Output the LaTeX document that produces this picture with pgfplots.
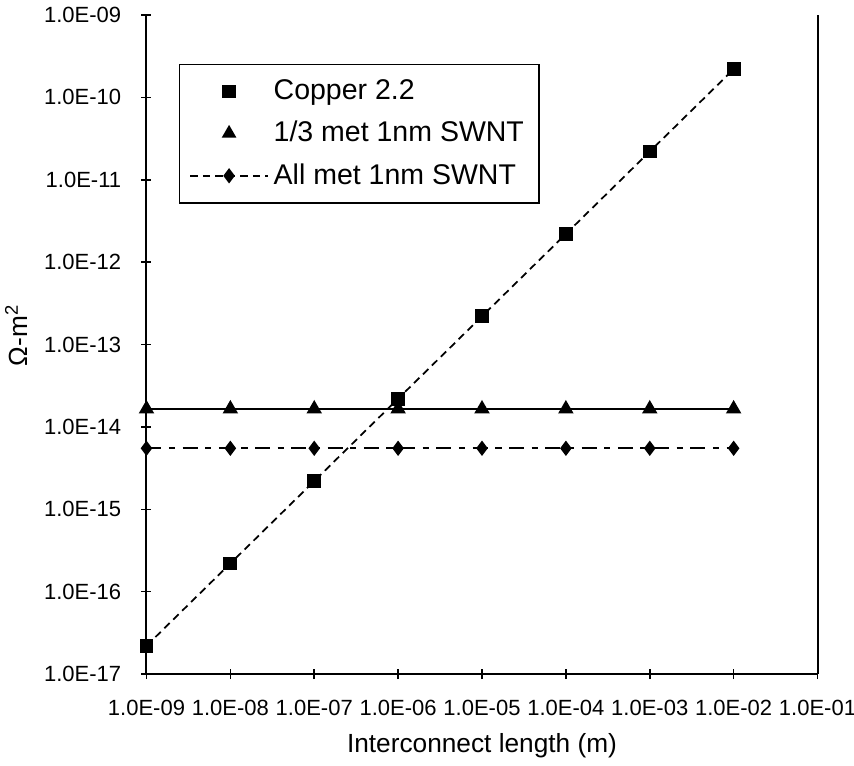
\documentclass[border=0pt]{standalone}
\usepackage{fontspec}
\setmainfont{Liberation Sans}
\usepackage{pgfplots}
\pgfplotsset{compat=1.18}
\begin{document}
\begin{tikzpicture}[x=1pt,y=1pt]
\useasboundingbox (0,0) rectangle (341.6,306);
\begin{axis}[
    at={(58.6pt,36.4pt)}, anchor=south west,
    scale only axis, width=268.4pt, height=263.6pt,
    xmode=log, ymode=log,
    xmin=1e-9, xmax=1e-1, ymin=1e-17, ymax=1e-9,
    axis x line*=bottom, axis y line*=left,
    axis line style={line width=0.8pt},
    xminorticks=false, yminorticks=false,
    xtick={1e-9,1e-8,1e-7,1e-6,1e-5,1e-4,1e-3,1e-2,1e-1},
    xticklabels={1.0E-09,1.0E-08,1.0E-07,1.0E-06,1.0E-05,1.0E-04,1.0E-03,1.0E-02,1.0E-01},
    ytick={1e-17,1e-16,1e-15,1e-14,1e-13,1e-12,1e-11,1e-10,1e-9},
    yticklabels={1.0E-17,1.0E-16,1.0E-15,1.0E-14,1.0E-13,1.0E-12,1.0E-11,1.0E-10,1.0E-09},
    tick align=center, major tick length=4pt,
    tick style={line width=0.6pt, black},
    tick label style={font=\fontsize{8.8}{10}\selectfont},
    xticklabel style={yshift=-5pt},
    yticklabel style={xshift=-4.6pt},
    xlabel={Interconnect length (m)},
    ylabel={Ω-m\textsuperscript{2}},
    label style={font=\fontsize{10.5}{12}\selectfont},
    xlabel style={at={(0.5,-0.109)}, anchor=center},
    ylabel style={at={(-0.194,0.514)}, anchor=center},
    extra description/.code={\draw[line width=0.8pt] (1,0) -- (1,1);},
    legend image code/.code={\draw[mark repeat=2,mark phase=2,#1] plot coordinates {(0pt,0pt) (15.5pt,0pt) (31pt,0pt)};},
    legend style={at={(0.048,0.926)}, anchor=north west, draw=black, line width=0.6pt,
        font=\fontsize{11.4}{13}\selectfont, row sep=3.2pt, inner xsep=4pt, inner ysep=4pt},
    legend cell align=left,
]
\addlegendimage{only marks, black, mark=square*, mark size=2.4pt}
\addlegendentry{Copper 2.2}
\addlegendimage{only marks, black, mark=triangle*, mark size=2.8pt}
\addlegendentry{1/3 met 1nm SWNT}
\addlegendimage{black, line width=0.7pt, dash pattern=on 3pt off 2pt, mark=diamond*, mark size=2.5pt, mark options={solid}}
\addlegendentry{All met 1nm SWNT}

\addplot[forget plot, black, line width=0.7pt, dash pattern=on 3pt off 2pt,
    mark=square*, mark size=2.4pt, mark options={solid}] coordinates {
    (1e-9,2.2e-17) (1e-8,2.2e-16) (1e-7,2.2e-15) (1e-6,2.2e-14)
    (1e-5,2.2e-13) (1e-4,2.2e-12) (1e-3,2.2e-11) (1e-2,2.2e-10)
};
\addplot[forget plot, black, line width=0.8pt, mark=triangle*, mark size=2.8pt] coordinates {
    (1e-9,1.65e-14) (1e-8,1.65e-14) (1e-7,1.65e-14) (1e-6,1.65e-14)
    (1e-5,1.65e-14) (1e-4,1.65e-14) (1e-3,1.65e-14) (1e-2,1.65e-14)
};
\addplot[forget plot, black, line width=0.7pt, dash pattern=on 6pt off 3pt on 2.5pt off 3pt,
    mark=diamond*, mark size=2.5pt, mark options={solid}] coordinates {
    (1e-9,5.5e-15) (1e-8,5.5e-15) (1e-7,5.5e-15) (1e-6,5.5e-15)
    (1e-5,5.5e-15) (1e-4,5.5e-15) (1e-3,5.5e-15) (1e-2,5.5e-15)
};
\end{axis}
\end{tikzpicture}
\end{document}
